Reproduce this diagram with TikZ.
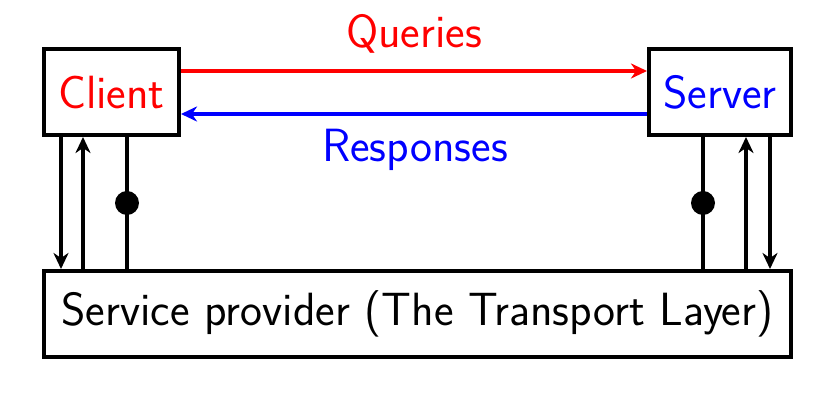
\documentclass[tikz,border=0pt]{standalone}
\usepackage{fontspec}
\usetikzlibrary{arrows.meta}
\begin{document}
\begin{tikzpicture}[x=0.5pt,y=-0.5pt,
  font=\sffamily\fontsize{23.3}{28}\selectfont,
  box/.style={draw,line width=2pt,inner sep=0pt,minimum height=43pt},
  conn/.style={line width=2pt},
  arr/.style={conn,-{Stealth[length=8pt,width=7.5pt,inset=2.5pt]}},
  dot/.style={circle,fill,inner sep=0pt,minimum size=12pt}]
\useasboundingbox (0,0) rectangle (832,405);
\node[box,minimum width=67.5pt,text=red] (client) at (111.5,92) {Client};
\node[box,minimum width=71pt,text=blue] (server) at (720,92) {Server};
\node[box,minimum width=373.5pt] (sp) at (417.5,314) {Service provider (The Transport Layer)};
% horizontal arrows
\draw[arr,red] ([yshift=10.5pt]client.east) -- ([yshift=10.5pt]server.west);
\draw[arr,blue] ([yshift=-11pt]server.west) -- ([yshift=-11pt]client.east);
\node[text=red,anchor=base] (q) at (414,48) {Queries};
\node[text=blue,anchor=base] (r) at (415,162) {Responses};
% client verticals
\coordinate (c1) at ([xshift=9.5pt]client.south west);
\coordinate (c2) at ([xshift=20.5pt]client.south west);
\coordinate (c3) at ([xshift=42.5pt]client.south west);
\draw[arr] (c1) -- (c1 |- sp.north);
\draw[arr] (c2 |- sp.north) -- (c2);
\draw[conn] (c3) -- node[dot] (d1) {} (c3 |- sp.north);
% server verticals
\coordinate (s1) at ([xshift=28pt]server.south west);
\coordinate (s2) at ([xshift=49.5pt]server.south west);
\coordinate (s3) at ([xshift=61.5pt]server.south west);
\draw[conn] (s1) -- node[dot] (d2) {} (s1 |- sp.north);
\draw[arr] (s2 |- sp.north) -- (s2);
\draw[arr] (s3) -- (s3 |- sp.north);
\end{tikzpicture}
\end{document}
